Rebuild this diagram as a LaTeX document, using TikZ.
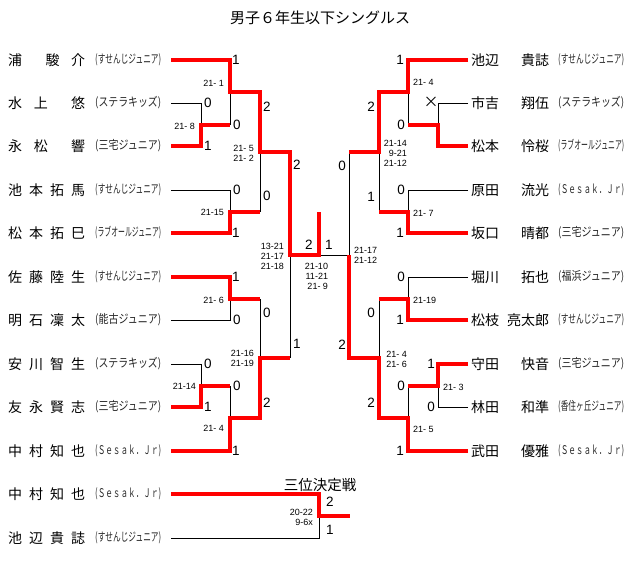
\documentclass[tikz,border=0pt]{standalone}
\usepackage{fontspec}
\usepackage{graphicx}
\setmainfont{Liberation Sans}
\newfontfamily\jp{Noto Sans CJK JP}
\newcommand\lnmfour[4]{\makebox[77pt][s]{#1\hfil#2\hfil#3\hfil#4}}
\newcommand\lnmthree[5]{\makebox[77pt][s]{#1\hskip 0pt plus #4fil#2\hskip 0pt plus #5fil#3}}
\newcommand\rnmtwo[2]{\makebox[78pt][s]{#1\hfil#2}}
\newcommand\clubname[1]{\resizebox{66pt}{\height}{#1}}
\begin{document}
\begin{tikzpicture}[x=1pt,y=-1pt,line join=miter,
  thinln/.style={draw=black,line width=0.9pt},
  win/.style={draw=red,line width=3.2pt},
  pname/.style={inner sep=0pt,anchor=west,font=\jp\fontsize{14}{14}\selectfont},
  cname/.style={inner sep=0pt,anchor=west,font=\jp\fontsize{12}{12}\selectfont,text=black!85},
  bigsc/.style={inner sep=0pt,font=\fontsize{13.5}{13.5}\selectfont},
  msc/.style={inner sep=0pt,font=\fontsize{9}{10}\selectfont},
  ttl/.style={inner sep=0pt,font=\jp\fontsize{15}{15}\selectfont}]
\useasboundingbox (0,0) rectangle (640,585);
\fill[white] (0,0) rectangle (640,585);
% titles
\node[ttl] (title) at (320,18) {男子６年生以下シングルス};
\node[ttl,font=\jp\fontsize{14.5}{14.5}\selectfont] (t3) at (320,485) {三位決定戦};
% left players
\node[pname] (p1) at (8,60) {\lnmthree{浦}{駿}{介}{2}{1}};
\node[pname] (p2) at (8,103) {\lnmthree{水}{上}{悠}{1}{2}};
\node[pname] (p3) at (8,146) {\lnmthree{永}{松}{響}{1}{2}};
\node[pname] (p4) at (8,190) {\lnmfour{池}{本}{拓}{馬}};
\node[pname] (p5) at (8,233) {\lnmfour{松}{本}{拓}{巳}};
\node[pname] (p6) at (8,277) {\lnmfour{佐}{藤}{陸}{生}};
\node[pname] (p7) at (8,320) {\lnmfour{明}{石}{凜}{太}};
\node[pname] (p8) at (8,364) {\lnmfour{安}{川}{智}{生}};
\node[pname] (p9) at (8,407) {\lnmfour{友}{永}{賢}{志}};
\node[pname] (p10) at (8,451) {\lnmfour{中}{村}{知}{也}};
\node[pname] (p11) at (8,494) {\lnmfour{中}{村}{知}{也}};
\node[pname] (p12) at (8,538) {\lnmfour{池}{辺}{貴}{誌}};
\node[cname] (c1) at (95,60) {\clubname{(すせんじジュニア)}};
\node[cname] (c2) at (95,103) {\clubname{(ステラキッズ)}};
\node[cname] (c3) at (95,146) {\clubname{(三宅ジュニア)}};
\node[cname] (c4) at (95,190) {\clubname{(すせんじジュニア)}};
\node[cname] (c5) at (95,233) {\clubname{(ラブオールジュニア)}};
\node[cname] (c6) at (95,277) {\clubname{(すせんじジュニア)}};
\node[cname] (c7) at (95,320) {\clubname{(能古ジュニア)}};
\node[cname] (c8) at (95,364) {\clubname{(ステラキッズ)}};
\node[cname] (c9) at (95,407) {\clubname{(三宅ジュニア)}};
\node[cname] (c10) at (95,451) {\clubname{(Ｓｅｓａｋ．Ｊｒ)}};
\node[cname] (c11) at (95,494) {\clubname{(Ｓｅｓａｋ．Ｊｒ)}};
\node[cname] (c12) at (95,538) {\clubname{(すせんじジュニア)}};
% right players
\node[pname] (q1) at (471,60) {\rnmtwo{池辺}{貴誌}};
\node[pname] (q2) at (471,103) {\rnmtwo{市吉}{翔伍}};
\node[pname] (q3) at (471,146) {\rnmtwo{松本}{怜桜}};
\node[pname] (q4) at (471,190) {\rnmtwo{原田}{流光}};
\node[pname] (q5) at (471,233) {\rnmtwo{坂口}{晴都}};
\node[pname] (q6) at (471,277) {\rnmtwo{堀川}{拓也}};
\node[pname] (q7) at (471,320) {\rnmtwo{松枝}{亮太郎}};
\node[pname] (q8) at (471,364) {\rnmtwo{守田}{快音}};
\node[pname] (q9) at (471,407) {\rnmtwo{林田}{和準}};
\node[pname] (q10) at (471,451) {\rnmtwo{武田}{優雅}};
\node[cname] (d1) at (558,60) {\clubname{(すせんじジュニア)}};
\node[cname] (d2) at (558,103) {\clubname{(ステラキッズ)}};
\node[cname] (d3) at (558,146) {\clubname{(ラブオールジュニア)}};
\node[cname] (d4) at (558,190) {\clubname{(Ｓｅｓａｋ．Ｊｒ)}};
\node[cname] (d5) at (558,233) {\clubname{(三宅ジュニア)}};
\node[cname] (d6) at (558,277) {\clubname{(福浜ジュニア)}};
\node[cname] (d7) at (558,320) {\clubname{(すせんじジュニア)}};
\node[cname] (d8) at (558,364) {\clubname{(三宅ジュニア)}};
\node[cname] (d9) at (558,407) {\clubname{(香住ヶ丘ジュニア)}};
\node[cname] (d10) at (558,451) {\clubname{(Ｓｅｓａｋ．Ｊｒ)}};
% line end coordinates
\foreach \i/\y in {1/60,2/103,3/146,4/190,5/233,6/277,7/320,8/364,9/407,10/451}{
  \coordinate (L\i) at (171,\y);
  \coordinate (R\i) at (468,\y);
}
\coordinate (T1) at (171,494);
\coordinate (T2) at (171,538);
% junctions
\coordinate (la) at (201,125);
\coordinate (lb) at (230,92);
\coordinate (lc) at (230,212);
\coordinate (ld) at (260,152);
\coordinate (le) at (230,299);
\coordinate (lf) at (201,386);
\coordinate (lg) at (230,418);
\coordinate (lh) at (260,358);
\coordinate (fin) at (290,255);
\coordinate (champ) at (319,255);
\coordinate (top) at (319,212);
\coordinate (ra) at (438,125);
\coordinate (rb) at (408,92);
\coordinate (rc) at (408,212);
\coordinate (rd) at (379,152);
\coordinate (re) at (408,299);
\coordinate (rf) at (438,386);
\coordinate (rg) at (408,418);
\coordinate (rh) at (379,358);
\coordinate (rfin) at (349,255);
\coordinate (tj) at (319,516);
\coordinate (tw) at (350,516);
% black lines
\draw[thinln] (L2) -| (la);
\draw[thinln] (lb) -- (la -| lb);
\draw[thinln] (L4) -| (lc);
\draw[thinln] (ld) -- (lc -| ld);
\draw[thinln] (L7) -| (le);
\draw[thinln] (le -| ld) -- (lh);
\draw[thinln] (L8) -| (lf);
\draw[thinln] (lf -| lb) -- (lg);
\draw[thinln] (fin) -- (lh -| fin);
\draw[thinln] (champ) -- (rfin);
\draw[thinln] (R2) -| (ra);
\draw[thinln] (rb) -- (ra -| rb);
\draw[thinln] (R4) -| (rc);
\draw[thinln] (rd) -- (rc -| rd);
\draw[thinln] (R6) -| (re);
\draw[thinln] (re -| rd) -- (rh);
\draw[thinln] (R9) -| (rf);
\draw[thinln] (rf -| rb) -- (rg);
\draw[thinln] (rd -| rfin) -- (rfin);
\draw[thinln] (T2) -| (tj);
% red winner lines
\draw[win] (L1) -| (lb) -| (ld) -| (fin) -- (champ) -- (top);
\draw[win] (L3) -| (la) -- (la -| lb);
\draw[win] (L5) -| (lc) -- (lc -| ld);
\draw[win] (L6) -| (le) -- (le -| ld);
\draw[win] (L9) -| (lf) -- (lf -| lb);
\draw[win] (L10) -| (lg) -| (lh) -- (lh -| fin);
\draw[win] (R1) -| (rb) -| (rd) -- (rd -| rfin);
\draw[win] (R3) -| (ra) -- (ra -| rb);
\draw[win] (R5) -| (rc) -- (rc -| rd);
\draw[win] (R7) -| (re) -- (re -| rd);
\draw[win] (R8) -| (rf) -- (rf -| rb);
\draw[win] (R10) -| (rg) -| (rh) -| (rfin);
\draw[win] (T1) -| (tj) -- (tw);
% game scores left
\node[bigsc] (s1) at (236,60) {1};
\node[bigsc] (s2) at (208,103) {0};
\node[bigsc] (s3) at (208,146) {1};
\node[bigsc] (s4) at (237,125) {0};
\node[bigsc] (s5) at (237,190) {0};
\node[bigsc] (s6) at (236,233) {1};
\node[bigsc] (s7) at (267,107) {2};
\node[bigsc] (s8) at (267,196) {0};
\node[bigsc] (s9) at (297,165) {2};
\node[bigsc] (s10) at (297,344) {1};
\node[bigsc] (s11) at (267,313) {0};
\node[bigsc] (s12) at (267,403) {2};
\node[bigsc] (s13) at (236,277) {1};
\node[bigsc] (s14) at (237,320) {0};
\node[bigsc] (s15) at (208,364) {0};
\node[bigsc] (s16) at (208,407) {1};
\node[bigsc] (s17) at (237,386) {0};
\node[bigsc] (s18) at (236,451) {1};
\node[bigsc] (s19) at (309,245) {2};
\node[bigsc] (s20) at (329,245) {1};
% game scores right
\node[bigsc] (u1) at (342,166) {0};
\node[bigsc] (u2) at (342,345) {2};
\node[bigsc] (u3) at (371,107) {2};
\node[bigsc] (u4) at (371,197) {1};
\node[bigsc] (u5) at (400,60) {1};
\node[bigsc] (u6) at (401,125) {0};
\node[bigsc] (u7) at (401,190) {0};
\node[bigsc] (u8) at (400,233) {1};
\node[bigsc] (u9) at (401,277) {0};
\node[bigsc] (u10) at (400,320) {1};
\node[bigsc] (u11) at (371,313) {0};
\node[bigsc] (u12) at (371,403) {2};
\node[bigsc] (u13) at (431,364) {1};
\node[bigsc] (u14) at (431,407) {0};
\node[bigsc] (u15) at (401,386) {0};
\node[bigsc] (u16) at (400,451) {1};
\node[bigsc,font=\jp\fontsize{15}{15}\selectfont] (u17) at (431,102) {×};
\node[bigsc] (u18) at (330,502) {2};
\node[bigsc] (u19) at (330,530) {1};
% match scores
\node[msc,anchor=east] (m1) at (224,83) {21- 1};
\node[msc,anchor=east] (m2) at (195,126) {21- 8};
\node[msc,anchor=east] (m3) at (224,212) {21-15};
\node[msc,anchor=east,align=right] (m4) at (254,153) {21- 5\\21- 2};
\node[msc,anchor=east,align=right] (m5) at (284,256) {13-21\\21-17\\21-18};
\node[msc,anchor=east] (m6) at (224,300) {21- 6};
\node[msc,anchor=east,align=right] (m7) at (254,358) {21-16\\21-19};
\node[msc,anchor=east] (m8) at (196,386) {21-14};
\node[msc,anchor=east] (m9) at (224,428) {21- 4};
\node[msc,align=right] (m10) at (316.5,276) {21-10\\11-21\\21- 9};
\node[msc,anchor=west,align=left] (m11) at (354,255) {21-17\\21-12};
\node[msc,anchor=west] (m12) at (413,82) {21- 4};
\node[msc,anchor=east,align=right] (m13) at (407,153) {21-14\\9-21\\21-12};
\node[msc,anchor=west] (m14) at (413,213) {21- 7};
\node[msc,anchor=west] (m15) at (413,300) {21-19};
\node[msc,anchor=east,align=right] (m16) at (407,359) {21- 4\\21- 6};
\node[msc,anchor=west] (m17) at (443,387) {21- 3};
\node[msc,anchor=west] (m18) at (413,429) {21- 5};
\node[msc,anchor=east,align=right] (m19) at (313,517) {20-22\\9-6x};
\end{tikzpicture}
\end{document}
